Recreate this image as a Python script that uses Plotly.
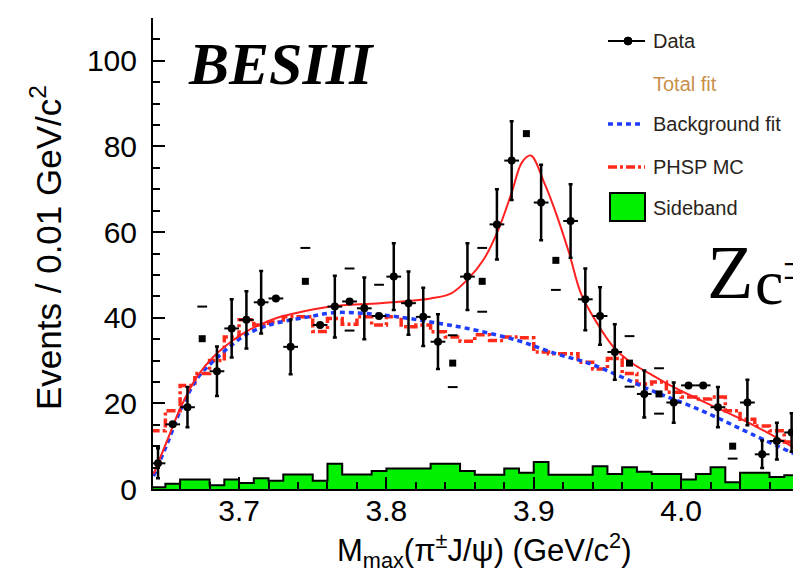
import plotly.graph_objects as go

# ---------------- data ----------------
# bin centres (GeV/c^2), 0.01 GeV bins
bin_centers = [3.645, 3.655, 3.665, 3.675, 3.685, 3.695, 3.705, 3.715, 3.725, 3.735,
               3.745, 3.755, 3.765, 3.775, 3.785, 3.795, 3.805, 3.815, 3.825, 3.835,
               3.845, 3.855, 3.865, 3.875, 3.885, 3.895, 3.905, 3.915, 3.925, 3.935,
               3.945, 3.955, 3.965, 3.975, 3.985, 3.995, 4.005, 4.015, 4.025, 4.035,
               4.045, 4.055, 4.065, 4.075, 4.085]

# data points drawn with error bars
data_mass = [3.645, 3.655, 3.665, 3.685, 3.695, 3.705, 3.715, 3.725, 3.735, 3.755,
             3.765, 3.775, 3.785, 3.795, 3.805, 3.815, 3.825, 3.835, 3.855, 3.875,
             3.885, 3.905, 3.925, 3.935, 3.945, 3.955, 3.975, 3.995, 4.005, 4.015,
             4.025, 4.045, 4.055, 4.065, 4.075, 4.085]
data_counts = [6.0, 15.1, 19.1, 27.5, 37.5, 39.5, 43.6, 44.5, 33.2, 38.3,
               42.6, 43.8, 42.2, 40.4, 49.6, 43.4, 40.2, 34.4, 49.6, 61.8,
               76.7, 66.9, 62.6, 44.3, 40.4, 32.0, 22.2, 20.2, 24.2, 24.2,
               19.1, 20.2, 8.1, 11.2, 13.2, 5.1]
data_errors = [3.5, 0.0, 4.7, 5.8, 6.8, 6.7, 7.3, 0.0, 6.4, 0.0,
               7.2, 0.0, 7.2, 0.0, 7.8, 7.4, 6.8, 6.4, 7.8, 8.2,
               9.2, 8.8, 8.6, 7.2, 6.7, 6.5, 5.5, 4.7, 0.0, 0.0,
               4.7, 5.3, 3.2, 4.3, 4.5, 2.3]

# data points that appear as bare square markers in the picture
square_mass = [3.675, 3.745, 3.845, 3.865, 3.895, 3.915, 3.965, 3.985, 4.035]
square_counts = [35.1, 48.5, 29.4, 48.5, 83.0, 53.4, 29.4, 22.2, 10.0]

# detached error-bar end caps
cap_mass = [3.675, 3.745, 3.775, 3.775, 3.795, 3.845, 3.845, 3.865, 3.865, 3.915,
            3.965, 3.965, 3.985, 3.985, 4.035]
cap_counts = [42.6, 56.3, 51.5, 37.0, 47.7, 35.9, 23.8, 56.3, 41.4, 46.5,
              35.7, 23.9, 28.2, 17.6, 7.1]

# PHSP MC histogram (per bin)
phsp_counts = [13.6, 18.3, 24.2, 27.0, 30.0, 35.5, 39.5, 38.3, 39.0, 40.2,
               40.2, 36.8, 39.8, 38.5, 40.2, 38.3, 40.2, 37.9, 38.3, 36.7,
               35.5, 34.5, 36.0, 34.7, 35.5, 35.3, 32.0, 31.6, 31.6, 29.6,
               28.0, 30.5, 27.0, 24.5, 25.0, 22.6, 21.5, 21.0, 21.5, 18.3,
               16.3, 14.7, 13.6, 11.0, 6.6]

# sideband histogram (per bin)
sideband_counts = [0.4, 1.2, 2.2, 2.2, 0.9, 2.2, 1.4, 2.5, 1.9, 3.4,
                   3.4, 1.9, 5.9, 3.4, 3.4, 4.2, 4.8, 4.8, 4.8, 5.9,
                   5.9, 4.2, 3.3, 3.3, 4.8, 3.8, 6.3, 3.3, 3.3, 3.3,
                   5.3, 3.5, 5.1, 4.0, 3.5, 3.5, 2.2, 3.5, 5.1, 1.6,
                   3.8, 3.8, 2.8, 3.2, 3.2]

# total fit curve
fit_mass = [3.642, 3.652, 3.661, 3.672, 3.683, 3.695, 3.706, 3.717, 3.726, 3.735,
            3.762, 3.796, 3.830, 3.844, 3.855, 3.866, 3.876, 3.885, 3.892, 3.898,
            3.907, 3.915, 3.924, 3.932, 3.943, 3.954, 3.967, 3.979, 3.991, 4.014,
            4.048, 4.087]
fit_counts = [3.5, 12.0, 19.5, 26.5, 31.0, 34.5, 37.0, 38.8, 40.0, 40.8,
              42.6, 43.4, 44.5, 45.7, 48.9, 53.6, 60.6, 69.2, 76.3, 77.9,
              71.6, 64.5, 55.1, 45.7, 38.7, 33.2, 29.3, 26.9, 24.5, 20.6,
              15.1, 7.6]

# background fit curve
bkg_mass = [3.642, 3.652, 3.661, 3.672, 3.683, 3.695, 3.706, 3.717, 3.726, 3.747,
            3.765, 3.785, 3.808, 3.830, 3.855, 3.889, 3.915, 3.938, 3.960, 3.980,
            4.014, 4.048, 4.087]
bkg_counts = [3.0, 11.2, 19.0, 26.0, 30.0, 33.6, 36.3, 37.9, 38.8, 40.2,
              41.2, 41.0, 40.2, 39.0, 37.5, 34.7, 31.6, 29.3, 26.1, 23.0,
              18.3, 12.8, 6.6]

x_ticks = [3.7, 3.8, 3.9, 4.0]
y_ticks = [0, 20, 40, 60, 80, 100]

BIN = 0.01

# ---------------- figure ----------------
W_FIG, H_FIG = 801, 572
L, R, T, B = 145, 801, 10, 481


def px(x):
    return (x - L) / (R - L)


def py(y):
    return (B - y) / (B - T)


edges = [c - BIN / 2 for c in bin_centers] + [bin_centers[-1] + BIN / 2]

fig = go.Figure()

# sideband
fig.add_trace(go.Bar(x=bin_centers, y=sideband_counts, width=BIN,
                     marker=dict(color="#00f000", line=dict(width=0)),
                     showlegend=False, hoverinfo="skip"))
fig.add_trace(go.Scatter(x=edges, y=sideband_counts + [sideband_counts[-1]],
                         mode="lines", line=dict(color="black", width=2, shape="hv"),
                         showlegend=False, hoverinfo="skip"))

# PHSP MC
fig.add_trace(go.Scatter(x=edges, y=phsp_counts + [phsp_counts[-1]], mode="lines",
                         line=dict(color="#ff2a1a", width=3.5, shape="hv",
                                   dash="9px,3px,3px,3px"),
                         showlegend=False))

# background fit
fig.add_trace(go.Scatter(x=bkg_mass, y=bkg_counts, mode="lines",
                         line=dict(color="#1f3dff", width=3.5, shape="spline",
                                   dash="5px,4px"),
                         showlegend=False))

# total fit
fig.add_trace(go.Scatter(x=fit_mass, y=fit_counts, mode="lines",
                         line=dict(color="#ff2020", width=2, shape="spline"),
                         showlegend=False))

# caps
fig.add_trace(go.Scatter(x=cap_mass, y=cap_counts, mode="markers",
                         marker=dict(symbol="line-ew", size=7,
                                     line=dict(color="black", width=2)),
                         showlegend=False))

# squares
fig.add_trace(go.Scatter(x=square_mass, y=square_counts, mode="markers",
                         marker=dict(symbol="square", size=7, color="black"),
                         showlegend=False))

# data
fig.add_trace(go.Scatter(x=data_mass, y=data_counts, mode="markers",
                         marker=dict(symbol="circle", size=8, color="black"),
                         error_x=dict(type="constant", value=BIN / 2, thickness=2,
                                      width=0, color="black"),
                         error_y=dict(type="data", array=data_errors, thickness=2.5,
                                      width=2, color="black"),
                         showlegend=False))

tickfont = dict(family="Liberation Sans, Arial, sans-serif", size=30, color="black")

fig.update_layout(
    width=W_FIG, height=H_FIG,
    margin=dict(l=L, r=W_FIG - R, t=T, b=H_FIG - B, pad=0),
    paper_bgcolor="white", plot_bgcolor="white",
    bargap=0, showlegend=False,
    xaxis=dict(range=[3.6416, 4.0868], tickmode="array", tickvals=x_ticks,
               ticktext=["%.1f" % v for v in x_ticks],
               ticks="inside", ticklen=12, tickwidth=2, tickcolor="black",
               minor=dict(dtick=0.02, tick0=3.64, ticks="inside", ticklen=7,
                          tickwidth=2, tickcolor="black"),
               showline=True, linewidth=2, linecolor="black", mirror=False,
               showgrid=False, zeroline=False, tickfont=tickfont,
               ticklabelstandoff=-6),
    yaxis=dict(range=[0, 110], tickmode="array", tickvals=y_ticks,
               ticks="inside", ticklen=12, tickwidth=2, tickcolor="black",
               minor=dict(dtick=5, tick0=0, ticks="inside", ticklen=7,
                          tickwidth=2, tickcolor="black"),
               showline=True, linewidth=2, linecolor="black", mirror=False,
               showgrid=False, zeroline=False, tickfont=tickfont,
               ticklabelstandoff=8),
)

ann = []
# axis titles
ann.append(dict(text="Events / 0.01 GeV/c<sup>2</sup>", textangle=-90,
                x=px(38), y=py(240), xref="paper", yref="paper",
                xanchor="center", yanchor="middle", showarrow=False,
                font=dict(family="Liberation Sans, Arial", size=35, color="black")))
ann.append(dict(text="M<sub>max</sub>(\u03c0<sup>\u00b1</sup>J/\u03c8) (GeV/c<sup>2</sup>)",
                x=px(476), y=py(542), xref="paper", yref="paper",
                xanchor="center", yanchor="middle", showarrow=False,
                font=dict(family="Liberation Sans, Arial", size=31, color="black")))
# BESIII
ann.append(dict(text="<b><i>BESIII</i></b>", x=px(178), y=py(56), xref="paper",
                yref="paper", xanchor="left", yanchor="middle", showarrow=False,
                font=dict(family="Liberation Serif, Times New Roman, serif", size=60,
                          color="black")))
# Zc label
ann.append(dict(text="Z", x=px(697), y=py(264), xref="paper", yref="paper",
                xanchor="left", yanchor="middle", showarrow=False,
                font=dict(family="Liberation Serif, serif", size=76, color="black")))
ann.append(dict(text="c", x=px(745), y=py(274), xref="paper", yref="paper",
                xanchor="left", yanchor="middle", showarrow=False,
                font=dict(family="Liberation Serif, serif", size=64, color="black")))
ann.append(dict(text="\u00b1", x=px(773), y=py(256), xref="paper", yref="paper",
                xanchor="left", yanchor="middle", showarrow=False,
                font=dict(family="Liberation Serif, serif", size=44, color="black")))

# legend
leg_font = dict(family="Liberation Sans, Arial", size=20, color="#2a2420")
legend_rows = [("Data", 33), ("Total fit", 76), ("Background fit", 116),
               ("PHSP MC", 159), ("Sideband", 200)]
for name, yy in legend_rows:
    f = dict(leg_font)
    if name == "Total fit":
        f["color"] = "#c8904c"
    ann.append(dict(text=name, x=px(643), y=py(yy), xref="paper", yref="paper",
                    xanchor="left", yanchor="middle", showarrow=False, font=f))

shapes = [
    dict(type="line", xref="paper", yref="paper", x0=px(600), x1=px(637),
         y0=py(33), y1=py(33), line=dict(color="black", width=2)),
    dict(type="circle", xref="paper", yref="paper", x0=px(616), x1=px(624),
         y0=py(37), y1=py(29), fillcolor="black", line=dict(color="black", width=1)),
    dict(type="line", xref="paper", yref="paper", x0=px(600), x1=px(636),
         y0=py(116), y1=py(116), line=dict(color="#1f3dff", width=3.5, dash="5px,4px")),
    dict(type="line", xref="paper", yref="paper", x0=px(600), x1=px(637),
         y0=py(159), y1=py(159),
         line=dict(color="#ff2a1a", width=3.5, dash="9px,3px,3px,3px")),
    dict(type="rect", xref="paper", yref="paper", x0=px(602), x1=px(637),
         y0=py(213), y1=py(185), fillcolor="#00f000", line=dict(color="black", width=2)),
]

fig.update_layout(annotations=ann, shapes=shapes)

fig.write_html("out.html")
